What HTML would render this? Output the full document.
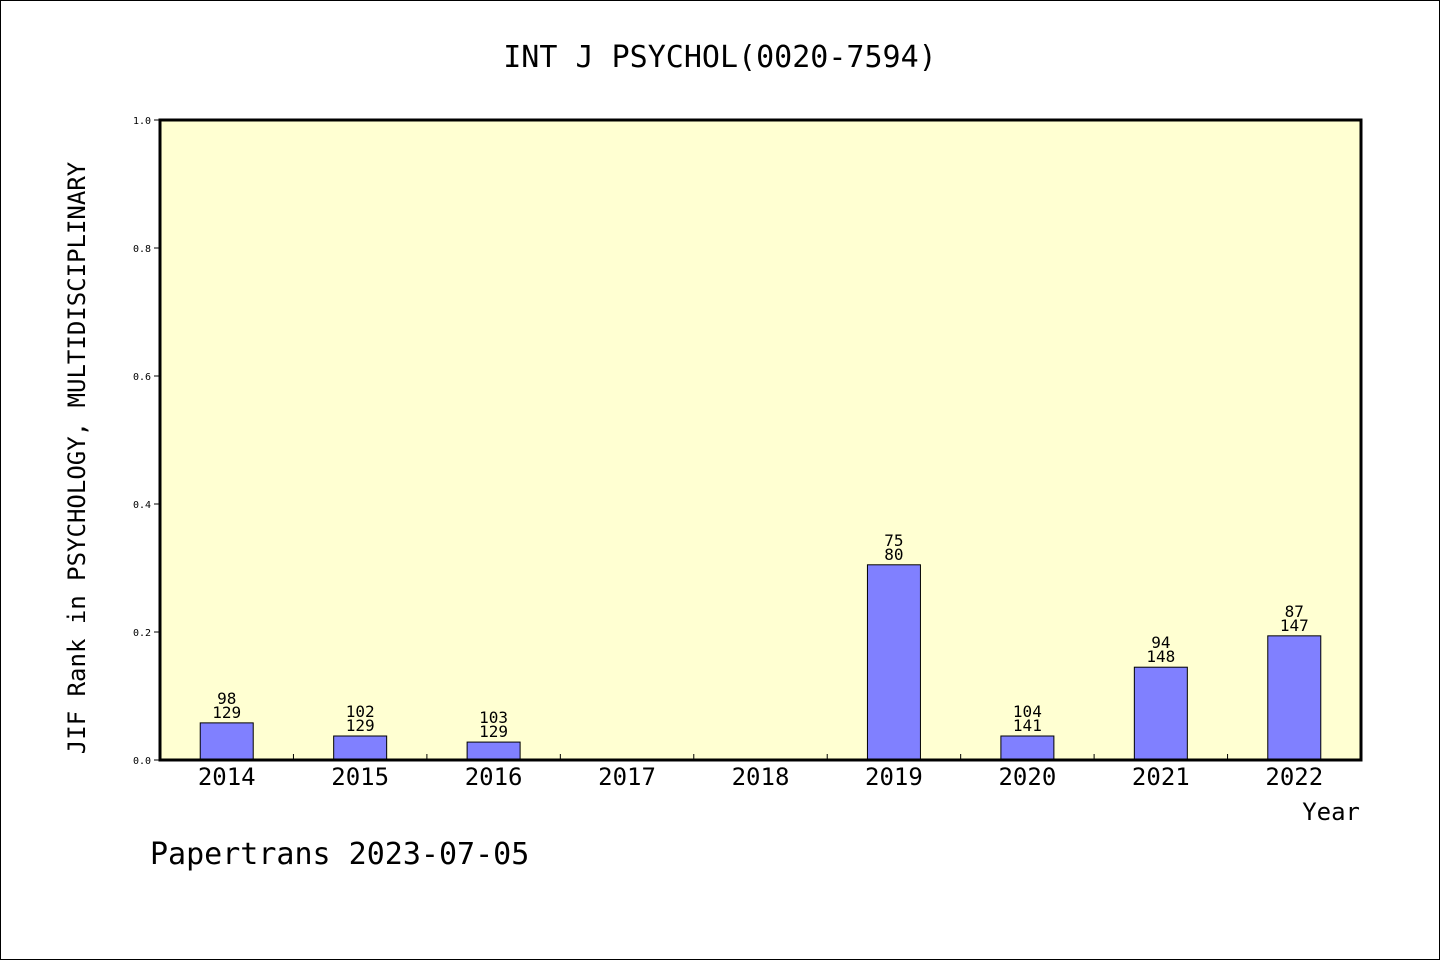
<!DOCTYPE html>
<html><head><meta charset="utf-8"><style>
body{margin:0;background:#fff}
svg text{font-family:"DejaVu Sans Mono","Liberation Mono",monospace}
</style></head><body>
<svg width="1440" height="960" xmlns="http://www.w3.org/2000/svg">
<rect x="0.5" y="0.5" width="1439" height="959" fill="#fff" stroke="#000"/>
<text x="720" y="67" text-anchor="middle" font-size="30">INT J PSYCHOL(0020-7594)</text>
<rect x="160" y="120" width="1201" height="640" fill="#ffffd2"/>
<g id="g"></g>
<rect x="160" y="120" width="1201" height="640" fill="none" stroke="#000" stroke-width="3"/>
<text transform="translate(85,458) rotate(-90)" text-anchor="middle" font-size="24">JIF Rank in PSYCHOLOGY, MULTIDISCIPLINARY</text>
<text x="1360" y="820" text-anchor="end" font-size="24">Year</text>
<text x="150" y="864" font-size="30">Papertrans 2023-07-05</text>
</svg>
<script>
const categories=["2014","2015","2016","2017","2018","2019","2020","2021","2022"];
const values=[0.058,0.0375,0.028,0,0,0.305,0.0375,0.145,0.194];
const ranks=["98","102","103","","","75","104","94","87"];
const totals=["129","129","129","","","80","141","148","147"];
const yTicks=[0,0.2,0.4,0.6,0.8,1.0];
const X0=160,W=1201,Y0=760,H=640;
const bw=W/categories.length;
const y=v=>Y0-v*H, xc=i=>X0+bw*(i+0.5);
const g=document.getElementById('g'),NS="http://www.w3.org/2000/svg";
function mk(t,a,txt){const e=document.createElementNS(NS,t);for(const k in a)e.setAttribute(k,a[k]);if(txt!==undefined)e.textContent=txt;g.appendChild(e);return e;}
yTicks.forEach(v=>{
 const l=mk('line',{x1:154,x2:160,y1:y(v),y2:y(v),stroke:'#000'});
 
 
 const t=mk('text',{x:151,y:y(v)+4,'text-anchor':'end','font-size':10},v.toFixed(1));
 
 
});
categories.forEach((c,i)=>{
 if(i>0){const l=mk('line',{x1:X0+bw*i,x2:X0+bw*i,y1:Y0,y2:Y0-6,stroke:'#000'});
 
 }
 const t=mk('text',{x:xc(i),y:785,'text-anchor':'middle','font-size':24},c);
 
 
 if(values[i]>0){
  const r=mk('rect',{x:xc(i)-26.5,y:y(values[i]),width:53,height:values[i]*H,fill:'#8080ff',stroke:'#000'});
  
  
  const a=mk('text',{x:xc(i),y:y(values[i])-19,'text-anchor':'middle','font-size':16},ranks[i]);
  
  
  const b=mk('text',{x:xc(i),y:y(values[i])-5,'text-anchor':'middle','font-size':16},totals[i]);
  
  
 }
});
</script>
</body></html>
